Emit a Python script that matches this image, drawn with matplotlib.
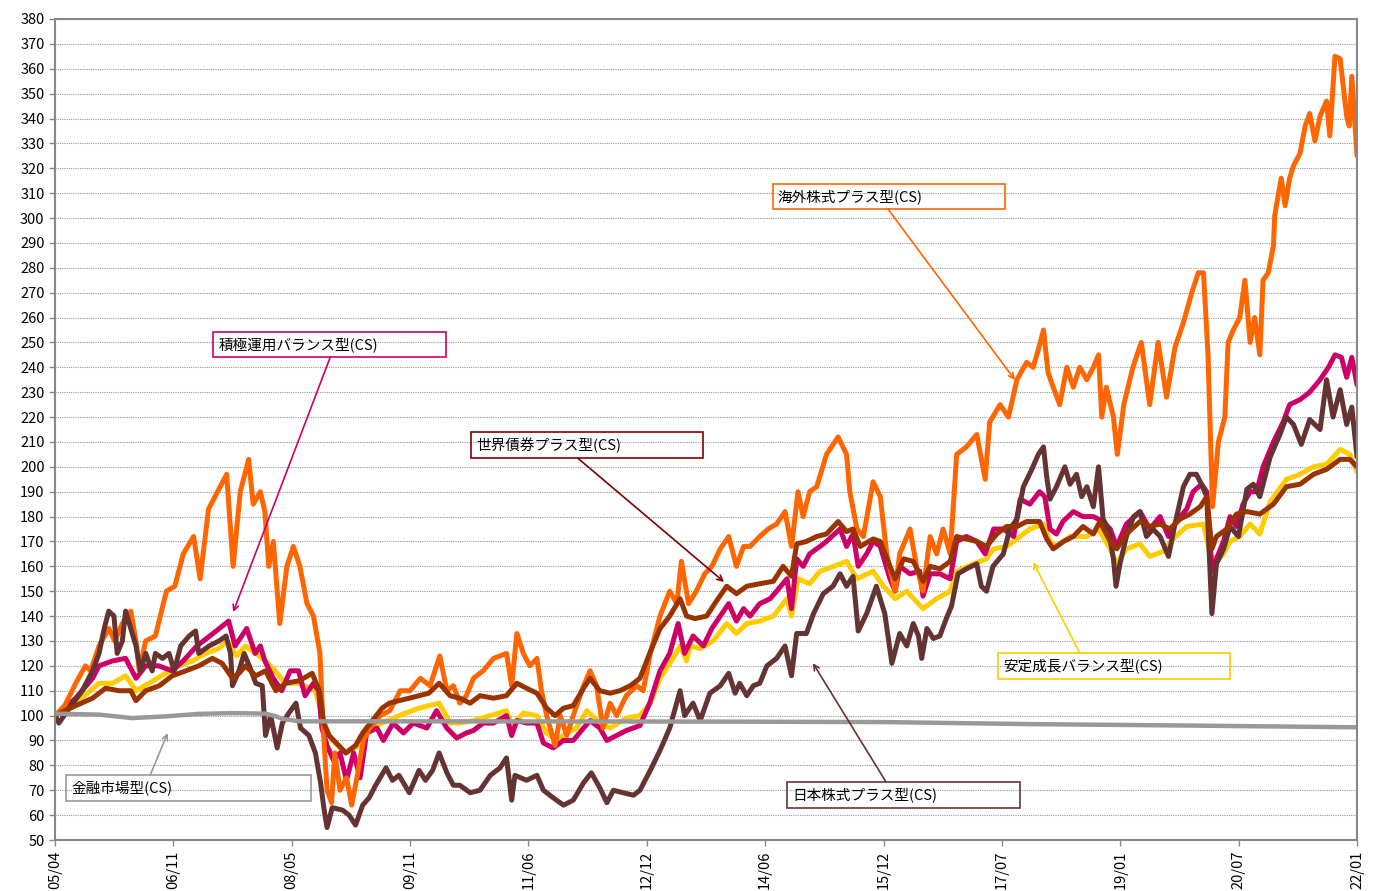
import matplotlib
matplotlib.use("Agg")
import matplotlib.pyplot as plt
from matplotlib.patches import Rectangle

plt.rcParams['font.family'] = ['Noto Sans CJK JP', 'DejaVu Sans']

# x = months since 2005/04, y = index (start = 100)
x_labels = ["05/04", "06/11", "08/05", "09/11", "11/06", "12/12", "14/06",
            "15/12", "17/07", "19/01", "20/07", "22/01"]
total_months = 201

# 海外株式プラス型(CS)
kaigai_m = [0, 1.5, 3.2, 4.7, 5.5, 6.8, 8.3, 9.2, 10.4, 11.7, 12.5, 13.0, 14, 15.5, 17.2, 18.5, 19.8, 21.4, 22.4, 23.7,
            25.5, 26.5, 27.5, 28.6, 29.9, 30.6, 31.7, 32.4, 33.0, 33.7, 34.7, 35.8, 36.8, 37.8, 38.9, 39.9, 40.9, 41.4,
            42.0, 42.7, 43.2, 44, 45, 45.8, 46.6, 47.6, 48.6, 50.2, 51.7, 53.3, 54.8, 56.4, 57.9, 59.4, 60.5, 61.5,
            62.5, 63.5, 64.6, 66.1, 67.7, 69.7, 70.5, 71.3, 72.3, 73.3, 74.4, 75.1, 75.9, 77.2, 78, 79, 80, 81.6,
            82.6, 83.6, 84.6, 85.7, 86.7, 88.2, 89.8, 90.8, 91.9, 93.4, 94.9, 96, 96.7, 97.8, 99, 100.3, 101.4,
            102.7, 104, 105.2, 106.3, 107.3, 108.8, 110.1, 111.4, 112.7, 113.7, 114.7, 115.5, 116.5, 117.6, 119.1,
            120.9, 122.2, 122.7, 123.8, 124.8, 126.3, 127.4, 128.4, 129.7, 130.4, 132, 133, 134, 135.1, 136.1,
            137.1, 138.2, 139.2, 140.7, 142.3, 143.6, 144.3, 145.9, 147.2, 148.5, 150, 151, 151.8, 152.6, 153.3,
            154.1, 155.1, 156.2, 157.2, 158.2, 159.3, 160.3, 161.1, 161.6, 162.3, 163.4, 164, 165, 166.4, 167.7,
            169, 170.3, 171.6, 172.9, 174.2, 175.5, 176.5, 177.3, 178, 178.7, 179.6, 180.6, 181.1, 181.9, 182.9,
            183.7, 184.5, 185.2, 186, 186.5, 187.3, 188.1, 188.3, 189.3, 189.9, 190.6, 191.2, 192.2, 193, 193.7,
            194.5, 195.3, 196.3, 196.8, 197.6, 198.4, 199.4, 199.8, 200.2, 201]
kaigai_v = [100, 104, 113, 120, 118, 128, 135, 130, 137, 142, 130, 118, 130, 132, 150, 152, 165, 172, 155, 183,
            192, 197, 160, 190, 203, 185, 190, 182, 160, 170, 137, 160, 168, 160, 145, 140, 125, 95,
            70, 65, 85, 70, 75, 64, 75, 90, 95, 100, 102, 110, 110, 115, 112, 124, 110, 112,
            105, 108, 115, 118, 123, 125, 112, 133, 125, 120, 123, 110, 100, 88, 100, 92, 100, 112,
            118, 112, 95, 105, 100, 108, 112, 110, 125, 140, 150, 145, 162, 145, 150, 157, 160,
            167, 172, 160, 168, 168, 172, 175, 177, 182, 168, 190, 180, 190, 192, 205,
            212, 205, 190, 175, 172, 194, 188, 165, 150, 165, 175, 160, 150, 172, 165,
            175, 165, 205, 208, 213, 195, 218, 225, 220, 235, 242, 240, 247, 255, 238,
            232, 225, 240, 232, 240, 235, 240, 245, 220, 232, 220, 205, 225, 240, 250,
            225, 250, 228, 248, 258, 270, 278, 278, 245, 184, 210, 220, 250, 255, 260,
            275, 250, 260, 245, 275, 278, 289, 301, 316, 305, 316, 321, 326, 337, 342,
            331, 341, 347, 333, 365, 364, 341, 337, 357, 325]

# 積極運用バランス型(CS)
sekkyoku_m = [0, 1.5, 3.2, 5.8, 6.8, 8.9, 10.9, 12.5, 14, 16, 18.1, 19.8, 21.9, 24.4, 26.8, 27.8, 29.6, 30.9, 31.7,
              32.4, 33.7, 35, 36.3, 37.6, 38.6, 39.9, 40.7, 41.2, 42, 43, 44, 45, 46.1, 47.1, 48.1, 49.7, 50.7,
              52.2, 53.8, 55.3, 57.4, 58.9, 60.5, 62, 63.5, 64.6, 66.1, 67.7, 69.7, 70.5, 71.3, 72.8, 74.4, 75.4,
              76.9, 78.5, 80, 81.6, 82.6, 84.1, 85.2, 86.7, 88.2, 90.3, 91.8, 93.4, 94.9, 96.2, 97.2, 98.5,
              100.1, 101.4, 102.7, 104, 105.2, 106.3, 107.3, 108.8, 110.4, 111.4, 113, 113.7, 114.5, 115.5,
              116.5, 118.1, 119.1, 121.2, 122.2, 123.2, 124, 125.3, 126.3, 127.4, 128.9, 129.7, 130.4, 132,
              133.5, 134, 135.1, 136.6, 138.2, 139.2, 140.7, 142.3, 143.6, 144.9, 146.4, 148, 149, 150.5, 152,
              152.8, 153.6, 154.6, 155.6, 157.2, 158.7, 160.3, 161.8, 162.9, 163.9, 165.4, 167.5, 169, 170.6,
              171.9, 173.1, 174.7, 175.7, 177, 177.8, 178.6, 179.3, 180.4, 181.4, 182.4, 183.4, 184.5, 185.5,
              186.5, 188.1, 189.6, 190.6, 192.2, 193.7, 195.3, 196.6, 197.6, 198.6, 199.4, 200.2, 201]
sekkyoku_v = [100, 103, 107, 115, 120, 122, 123, 115, 120, 120, 118, 122, 128, 133, 138, 128, 135, 125, 128,
              122, 115, 110, 118, 118, 108, 113, 110, 95, 88, 82, 85, 74, 85, 75, 93, 95, 90,
              97, 93, 97, 95, 102, 95, 91, 93, 94, 97, 97, 100, 92, 98, 97, 97, 89,
              87, 90, 90, 95, 98, 95, 90, 92, 94, 96, 105, 118, 125, 137, 125, 132,
              128, 135, 140, 145, 138, 143, 140, 145, 147, 150, 155, 143, 163, 160,
              165, 168, 170, 175, 168, 173, 160, 165, 170, 168, 155, 150, 160, 157,
              158, 148, 157, 157, 155, 170, 172, 170, 165, 175, 175, 172, 187, 185, 190,
              188, 175, 173, 178, 182, 180, 180, 178, 175, 168, 177, 182, 175, 180,
              172, 178, 183, 190, 193, 190, 158, 163, 170, 180, 176, 185, 190, 190,
              200, 210, 218, 225, 227, 230, 235, 240, 245, 244, 236, 244, 233]

# 安定成長バランス型(CS)
antei_m = [0, 1.5, 3.2, 5, 6.8, 8.9, 10.9, 12.5, 14.5, 17.1, 19.1, 21.2, 23.3, 25.3, 26.6, 28, 29.4, 31.5, 32.5,
           34, 35.5, 37.7, 40.2, 41.5, 42.8, 44.9, 47, 48, 50.5, 53.1, 56.2, 59.3, 61, 62.5, 64.6, 67.2, 69.7,
           70.5, 72.3, 74.4, 75.9, 77.4, 79, 80.5, 82.1, 84.1, 85.7, 88.2, 90.3, 91.9, 93.4, 95.4, 96.5, 97.5,
           98, 99.6, 101.6, 103.7, 105.2, 106.8, 108.8, 110.9, 113, 113.7, 114.7, 116.5, 118.1, 120.2, 122.2,
           123.8, 126.3, 127.9, 129.7, 131.5, 134, 136.1, 138.2, 139.2, 141.8, 143.8, 144.9, 146.9, 148.5,
           150.5, 152.6, 153.6, 154.6, 156.7, 159.3, 161.1, 162.9, 163.9, 165.4, 167.5, 169, 171.1, 172.6,
           174.7, 177.3, 178.3, 179.3, 180.4, 181.4, 182.9, 184.5, 186, 187.6, 190.1, 192.2, 194.3, 196.3,
           198.4, 199.9, 201]
antei_v = [100, 102, 105, 109, 113, 113, 116, 110, 113, 117, 120, 122, 125, 127, 130, 124, 128, 124, 122,
           118, 113, 113, 110, 97, 90, 85, 88, 95, 97, 100, 103, 105, 97, 97, 98, 100, 102,
           96, 101, 100, 93, 90, 93, 95, 102, 97, 95, 99, 100, 105, 115, 123, 128, 122,
           128, 127, 130, 137, 133, 137, 138, 140, 147, 140, 155, 153, 158, 160, 162,
           155, 158, 152, 147, 150, 143, 147, 150, 158, 161, 163, 167, 168, 171,
           175, 177, 170, 168, 172, 172, 175, 167, 161, 167, 169, 164, 166, 171,
           176, 177, 165, 162, 165, 170, 172, 177, 173, 186, 195, 197, 200, 201,
           207, 205, 198]

# 世界債券プラス型(CS)
sekai_m = [0, 1.5, 3.2, 5.8, 7.8, 9.9, 11.7, 12.5, 14, 16.1, 18.1, 20.2, 22.2, 24.3, 25.8, 27.4, 28.4, 29.4, 31,
           32.5, 34.1, 35.6, 37.7, 39.7, 40.8, 41.5, 42.3, 43.8, 44.9, 46.4, 47.5, 49, 50.5, 51.6, 53.1, 54.7,
           56.2, 57.7, 59.3, 61, 62.5, 64.1, 65.6, 67.7, 69.7, 71.3, 72.8, 74.4, 75.9, 77.2, 78.5, 80, 81.6,
           82.6, 84.1, 85.7, 87.2, 88.8, 90.3, 91.8, 93.4, 94.9, 96.5, 97.5, 98.8, 100.6, 102.1, 103.7, 105.2,
           106.8, 108.8, 110.9, 112.4, 113.7, 114.5, 116, 117.6, 119.1, 120.9, 122.2, 123.2, 124.3, 126.3,
           127.4, 128.9, 129.7, 131, 132.5, 134, 135.1, 136.6, 138.2, 139.2, 140.7, 142.3, 143.8, 145.4,
           146.9, 148.5, 150, 152, 153.1, 154.1, 155.7, 157.2, 158.7, 160.3, 161.3, 162.9, 163.9, 165.4,
           167.5, 169, 170.6, 172.1, 173.7, 175.2, 176.8, 177.8, 178.6, 179.3, 180.9, 182.4, 184, 186, 188.1,
           190.1, 192.2, 194.3, 196.3, 198.4, 199.9, 201]
sekai_v = [100, 102, 104, 107, 111, 110, 110, 106, 110, 112, 116, 118, 120, 123, 121, 115, 117, 120, 116,
           118, 110, 113, 114, 117, 110, 97, 92, 88, 85, 88, 93, 98, 103, 105, 106, 107,
           108, 109, 113, 108, 107, 105, 108, 107, 108, 113, 111, 109, 103, 100, 103, 104, 111,
           115, 110, 109, 110, 112, 115, 125, 135, 140, 147, 140, 139, 140, 146, 152, 149,
           152, 153, 154, 160, 156, 169, 170, 172, 173, 178, 174, 175, 168, 171,
           170, 160, 155, 163, 162, 154, 160, 159, 162, 172, 171, 170, 168, 173,
           176, 176, 178, 178, 171, 167, 170, 172, 176, 173, 178, 170, 167, 173,
           178, 176, 177, 175, 179, 181, 184, 188, 167, 172, 175, 181, 182, 181, 185,
           192, 193, 197, 199, 203, 203, 200]

# 日本株式プラス型(CS)
nihon_m = [0, 0.6, 2.2, 4.2, 5.8, 6.8, 7.6, 8.3, 9.1, 9.6, 10.4, 10.9, 11.7, 12.5, 13.2, 14, 15, 15.5, 16.6, 17.6,
           18.4, 19.4, 20.7, 21.7, 22.2, 23.8, 25.3, 26.4, 27.1, 27.4, 28.4, 29.2, 30, 31, 32, 32.5, 33.3, 34.3,
           35.1, 36.1, 37.2, 37.9, 39.2, 40.2, 41, 41.5, 42, 42.8, 44.4, 45.4, 46.4, 47.5, 48.5, 49.5, 51.1,
           52.1, 53.1, 54.7, 56.2, 57.2, 58.3, 59.3, 60.5, 61.5, 62.5, 64.1, 65.6, 67.2, 68.7, 69.7, 70.5, 71,
           72.8, 74.4, 75.4, 76.9, 78.5, 80, 81.6, 82.8, 84.1, 85.2, 86.2, 87.7, 89.3, 90.3, 91.9, 93.4, 94.9,
           96.5, 97.2, 98.5, 99.6, 101.1, 102.7, 104, 105, 105.7, 106.8, 107.8, 108.8, 109.9, 111.4, 112.7,
           113.7, 114.5, 116, 117.1, 118.6, 120.1, 121.2, 122.2, 123.2, 124, 125.3, 126.8, 128.1, 129.2,
           130.4, 131.5, 132.5, 133.3, 133.8, 134.6, 135.6, 136.6, 137.6, 138.4, 139.4, 140.7, 142.3, 143,
           143.8, 144.8, 146.4, 147.4, 148.5, 149.5, 150.8, 151.8, 152.6, 153.1, 153.6, 154.6, 155.9, 156.7,
           157.7, 158.5, 159.3, 160.3, 161.1, 161.8, 162.6, 163.4, 163.8, 164.4, 165.4, 166.5, 167.5, 168.5,
           169.5, 170.6, 171.9, 172.9, 174.2, 175.2, 176.2, 177, 177.8, 178.6, 179.3, 180.4, 181.4, 182.7,
           184, 185, 186, 187.6, 189.1, 190.1, 191.2, 192.4, 193.7, 195.3, 196.3, 197.3, 198.4, 199.4,
           200.2, 201]
nihon_v = [100, 97, 103, 110, 118, 125, 135, 142, 140, 125, 130, 142, 135, 128, 118, 125, 118, 125, 123, 125,
           118, 128, 132, 134, 125, 128, 130, 132, 125, 112, 118, 125, 120, 113, 112, 92, 100, 87,
           97, 101, 105, 95, 92, 85, 73, 63, 55, 63, 62, 60, 56, 64, 67, 72, 79,
           74, 76, 69, 78, 74, 78, 85, 77, 72, 72, 69, 70, 76, 79, 83, 66, 76,
           74, 76, 70, 67, 64, 66, 73, 77, 71, 65, 70, 69, 68, 70, 78, 86, 95,
           110, 100, 105, 98, 109, 112, 117, 109, 113, 108, 112, 113, 120, 123, 128,
           116, 133, 133, 141, 149, 152, 157, 152, 156, 134, 141, 152, 141, 121,
           133, 128, 137, 132, 123, 135, 131, 132, 139, 144, 157, 159, 161, 152,
           150, 160, 165, 175, 179, 192, 199, 205, 208, 196, 187, 192, 200, 193,
           197, 188, 192, 184, 200, 179, 175, 163, 152, 161, 172, 180, 182, 172,
           175, 172, 164, 177, 192, 197, 197, 193, 188, 141, 161, 167, 176, 172,
           191, 193, 188, 204, 213, 220, 217, 209, 219, 215, 235, 220, 231, 217,
           224, 204]

# 金融市場型(CS)
kinyu_m = [0, 6.8, 11.9, 17.1, 22.2, 27.4, 32.5, 34.1, 35.1, 37.7, 60, 100, 128, 150, 175, 201]
kinyu_v = [100.8, 100.4, 99, 99.7, 100.7, 101, 100.8, 99.7, 98.7, 97.7, 97.7, 97.6, 97.4, 96.6, 96, 95.3]

# draw order follows the original chart (later = on top)
series = [
    (antei_m, antei_v, "#FFCC00", 3.6),
    (sekkyoku_m, sekkyoku_v, "#CC0066", 3.6),
    (kaigai_m, kaigai_v, "#FF6600", 3.6),
    (nihon_m, nihon_v, "#663333", 3.6),
    (sekai_m, sekai_v, "#993300", 3.6),
    (kinyu_m, kinyu_v, "#999999", 3.2),
]

# label boxes: (text, colour, box x0, x1, y0, y1, arrow tail, arrow tip)
labels = [
    ("積極運用バランス型(CS)", "#CC0066", 24.4, 60.4, 244.1, 254.2, (42.5, 244.1), (27.5, 141.6)),
    ("世界債券プラス型(CS)", "#800000", 64.2, 100.0, 203.5, 214.0, (80.7, 203.5), (103.3, 153.7)),
    ("海外株式プラス型(CS)", "#FF6600", 110.8, 146.7, 303.6, 313.7, (128.6, 303.6), (148.2, 234.9)),
    ("安定成長バランス型(CS)", "#FFCC00", 145.6, 181.4, 114.7, 125.2, (158.2, 125.2), (151.0, 161.7)),
    ("日本株式プラス型(CS)", "#663333", 113.0, 149.0, 62.9, 73.3, (128.3, 73.3), (117.0, 121.1)),
    ("金融市場型(CS)", "#999999", 1.7, 39.5, 65.7, 76.1, (14.7, 76.1), (17.4, 93.0)),
]

fig = plt.figure(figsize=(13.75, 8.91), dpi=100)
ax = fig.add_axes([55 / 1375, 51 / 891, 1302 / 1375, 821 / 891])

for xs, ys, c, lw in series:
    ax.plot(xs, ys, color=c, lw=lw, solid_joinstyle="round", solid_capstyle="round")

for text, c, x0, x1, y0, y1, tail, tip in labels:
    ax.add_patch(Rectangle((x0, y0), x1 - x0, y1 - y0, facecolor="none", edgecolor=c, lw=1.2, zorder=5))
    ax.text(x0 + 0.8, (y0 + y1) / 2, text, fontsize=10.5, va="center", ha="left", zorder=6)
    ax.annotate("", xy=tip, xytext=tail,
                arrowprops=dict(arrowstyle="->", color=c, lw=1.2, shrinkA=0, shrinkB=0), zorder=6)

ax.set_xlim(0, total_months)
ax.set_ylim(50, 380)
ax.set_yticks(range(50, 381, 10))
ax.set_xticks([k * total_months / 11 for k in range(12)])
ax.set_xticklabels(x_labels, rotation=90)
ax.tick_params(axis="both", colors="#888888", labelcolor="black", labelsize=10.5, length=4, width=1)
ax.yaxis.grid(True, linestyle=(0, (1, 1)), color="#999999", lw=0.8)
ax.set_axisbelow(True)
for s in ax.spines.values():
    s.set_color("#888888")
    s.set_linewidth(1.5)

fig.savefig("out.png", dpi=100)
